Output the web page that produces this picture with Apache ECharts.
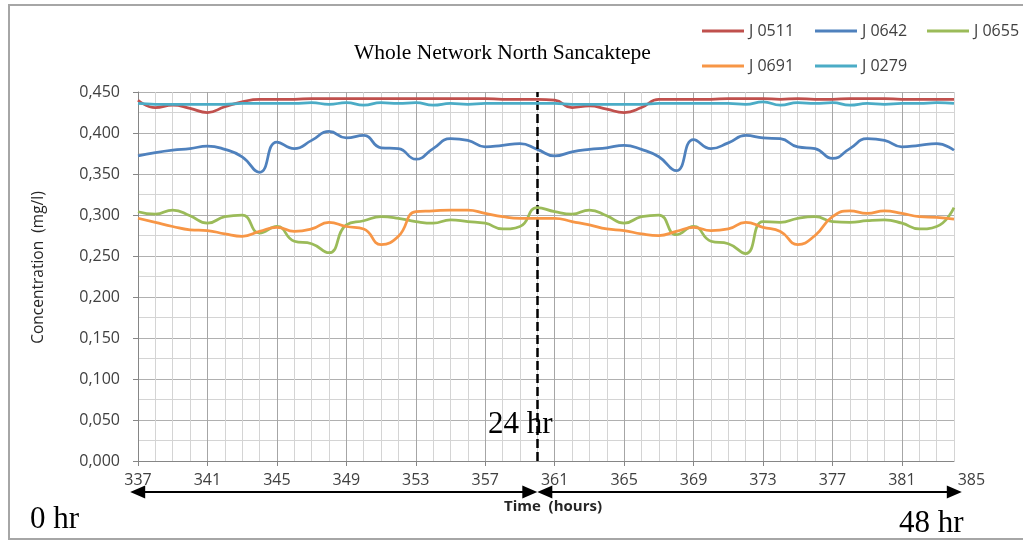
<!DOCTYPE html>
<html><head><meta charset="utf-8">
<script src="https://cdn.jsdelivr.net/npm/echarts@6/dist/echarts.min.js"></script>
<style>html,body{margin:0;padding:0;background:#fff}#c{width:1023px;height:542px}</style>
</head><body><div id="c"></div>
<script>
// ---- data ----
const hours = [337,338,339,340,341,342,343,344,345,346,347,348,349,350,351,352,353,354,355,356,357,358,359,360,
               361,362,363,364,365,366,367,368,369,370,371,372,373,374,375,376,377,378,379,380,381,382,383,384];
const axisLabelHours = [337,338,339,340,341,342,343,344,345,346,347,348,349,350,351,352,353,354,355,356,357,358,359,360,
               361,362,363,364,365,366,367,368,369,370,371,372,373,374,375,376,377,378,379,380,381,382,383,384,385];
const j0511 = [0.440,0.431,0.434,0.430,0.425,0.432,0.438,0.441,0.441,0.441,0.442,0.442,
               0.442,0.442,0.442,0.442,0.442,0.442,0.442,0.442,0.442,0.441,0.441,0.441,
               0.440,0.431,0.433,0.429,0.425,0.431,0.441,0.441,0.441,0.441,0.442,0.442,
               0.442,0.441,0.442,0.441,0.441,0.442,0.442,0.442,0.441,0.441,0.441,0.441];
const j0642 = [0.372,0.376,0.379,0.381,0.384,0.380,0.371,0.352,0.389,0.381,0.391,0.402,
               0.394,0.397,0.382,0.381,0.368,0.381,0.393,0.391,0.383,0.385,0.387,0.380,
               0.372,0.377,0.380,0.382,0.385,0.380,0.371,0.354,0.392,0.381,0.388,0.397,
               0.394,0.393,0.383,0.381,0.369,0.381,0.393,0.391,0.383,0.385,0.387,0.379];
const j0655 = [0.304,0.301,0.306,0.299,0.290,0.298,0.300,0.278,0.286,0.268,0.265,0.254,
               0.288,0.293,0.298,0.296,0.292,0.290,0.294,0.292,0.290,0.283,0.286,0.309,
               0.304,0.301,0.306,0.299,0.290,0.298,0.300,0.276,0.286,0.268,0.265,0.253,
               0.292,0.291,0.296,0.298,0.292,0.291,0.293,0.294,0.290,0.283,0.286,0.309];
const j0691 = [0.296,0.291,0.286,0.282,0.281,0.277,0.274,0.280,0.285,0.280,0.283,0.291,
               0.286,0.283,0.264,0.274,0.304,0.305,0.306,0.306,0.302,0.298,0.296,0.296,
               0.296,0.292,0.288,0.283,0.281,0.277,0.275,0.280,0.285,0.281,0.283,0.291,
               0.285,0.280,0.264,0.275,0.298,0.305,0.302,0.305,0.302,0.298,0.297,0.295];
const j0279 = [0.436,0.435,0.435,0.435,0.435,0.435,0.436,0.436,0.436,0.436,0.437,0.435,
               0.437,0.434,0.437,0.436,0.437,0.434,0.436,0.435,0.436,0.436,0.436,0.436,
               0.436,0.435,0.435,0.435,0.435,0.435,0.436,0.436,0.436,0.436,0.436,0.435,
               0.438,0.434,0.437,0.436,0.437,0.434,0.436,0.435,0.436,0.436,0.437,0.436];
const seriesNames = ['J 0511','J 0642','J 0655','J 0691','J 0279'];
const dividerHour = 360;
const arrowTips = [336.55, 360, 384.45];

// ---- layout / style ----
const colors = ['#C0504D','#4F81BD','#9BBB59','#F79646','#4BACC6'];
const values = [j0511, j0642, j0655, j0691, j0279];
const FONT = 'Open Sans';
const L = 138, T = 92, W1 = 816, H = 369;
const perHour = W1 / (hours.length - 1);
const headLen = 15;
const headHalfHours = (headLen / 2) / perHour;

const chart = echarts.init(document.getElementById('c'));
const series = seriesNames.map((n, i) => ({
  name: n, type: 'line', xAxisIndex: 0, yAxisIndex: 0,
  data: values[i], smooth: 0.5, symbol: 'none',
  lineStyle: { width: 2.75, color: colors[i] }, itemStyle: { color: colors[i] },
  z: 3 + i
}));
series.push({
  type: 'line', xAxisIndex: 0, yAxisIndex: 0, data: [], z: 20,
  markLine: { silent: true, symbol: 'none', label: { show: false },
    lineStyle: { color: '#000', type: [9, 4], width: 2.5 },
    data: [{ xAxis: hours.indexOf(dividerHour) }] }
});
series.push({
  type: 'line', xAxisIndex: 2, yAxisIndex: 2, data: [], z: 20,
  markLine: { silent: true, symbol: ['triangle', 'triangle'], symbolSize: [13, headLen],
    label: { show: false }, lineStyle: { color: '#000', type: 'solid', width: 2 },
    itemStyle: { color: '#000' },
    data: [
      [{ coord: [arrowTips[0] + headHalfHours, 0.5] }, { coord: [arrowTips[1] - headHalfHours, 0.5] }],
      [{ coord: [arrowTips[1] + headHalfHours, 0.5] }, { coord: [arrowTips[2] - headHalfHours, 0.5] }]
    ] }
});

const legendBase = { orient: 'vertical', icon: 'rect', itemWidth: 42, itemHeight: 3, itemGap: 17, padding: 0,
  textStyle: { fontFamily: FONT, fontSize: 16, color: '#404040', lineHeight: 18 } };

chart.setOption({
  animation: false,
  backgroundColor: '#fff',
  title: { text: 'Whole Network North Sancaktepe', left: 349, top: 37,
    textStyle: { fontFamily: 'Liberation Serif', fontSize: 21.5, fontWeight: 'normal', color: '#000' } },
  legend: [
    Object.assign({}, legendBase, { left: 702, top: 22, data: ['J 0511', 'J 0691'] }),
    Object.assign({}, legendBase, { left: 815, top: 22, data: ['J 0642', 'J 0279'] }),
    Object.assign({}, legendBase, { left: 927, top: 22, data: ['J 0655'] })
  ],
  grid: [
    { left: L, top: T, width: W1, height: H },
    { left: L, top: T, width: perHour * (axisLabelHours.length - 1), height: H },
    { left: L + (arrowTips[0] - 0.05 - hours[0]) * perHour, top: 482, width: perHour * 48, height: 20 }
  ],
  xAxis: [
    { type: 'category', gridIndex: 0, data: hours, boundaryGap: false,
      axisLine: { lineStyle: { color: '#868686', width: 1 } },
      axisTick: { show: true, interval: 3, length: 5, lineStyle: { color: '#868686' } },
      axisLabel: { show: false },
      splitLine: { show: true, interval: 0, lineStyle: { color: ['#a6a6a6', '#d4d4d4', '#d4d4d4', '#d4d4d4'], width: 1 } },
      name: 'Time  (hours)', nameLocation: 'middle', nameGap: 38,
      nameTextStyle: { fontFamily: FONT, fontSize: 15, fontWeight: 'bold', color: '#262626', padding: [0, 0, 0, 14] } },
    { type: 'category', gridIndex: 1, data: axisLabelHours, boundaryGap: false,
      axisLine: { show: false }, axisTick: { show: false }, splitLine: { show: false },
      axisLabel: { interval: 3, margin: 11, fontFamily: FONT, fontSize: 16, color: '#404040' } },
    { type: 'value', gridIndex: 2, min: arrowTips[0] - 0.05, max: arrowTips[0] - 0.05 + 48, show: false }
  ],
  yAxis: [
    { type: 'value', gridIndex: 0, min: 0, max: 0.45, interval: 0.05,
      axisLine: { show: true, lineStyle: { color: '#868686' } },
      axisTick: { show: true, length: 5, lineStyle: { color: '#868686' } },
      axisLabel: { margin: 18, fontFamily: FONT, fontSize: 16, color: '#404040',
        formatter: v => v.toFixed(3).replace('.', ',') },
      splitLine: { show: true, lineStyle: { color: '#b0b0b0', width: 1 } },
      minorTick: { show: false, splitNumber: 2 },
      minorSplitLine: { show: true, lineStyle: { color: '#d4d4d4', width: 1 } },
      name: 'Concentration  (mg/l)', nameLocation: 'middle', nameRotate: 90, nameGap: 91,
      nameTextStyle: { fontFamily: FONT, fontSize: 15.5, color: '#262626', padding: [0, 0, 0, 18] } },
    { type: 'value', gridIndex: 1, min: 0, max: 1, show: false },
    { type: 'value', gridIndex: 2, min: 0, max: 1, show: false }
  ],
  graphic: [
    { type: 'rect', shape: { x: 9, y: 5, width: 1030, height: 534 }, silent: true,
      style: { fill: 'none', stroke: '#a6a6a6', lineWidth: 2 } },
    { type: 'text', left: 488, top: 409, z: 30,
      style: { text: '24 hr', fontFamily: 'Liberation Serif', fontSize: 31, fill: '#000' } },
    { type: 'text', left: 30, top: 504,
      style: { text: '0 hr', fontFamily: 'Liberation Serif', fontSize: 31, fill: '#000' } },
    { type: 'text', left: 899, top: 508,
      style: { text: '48 hr', fontFamily: 'Liberation Serif', fontSize: 31, fill: '#000' } }
  ],
  series: series
});
</script></body></html>
